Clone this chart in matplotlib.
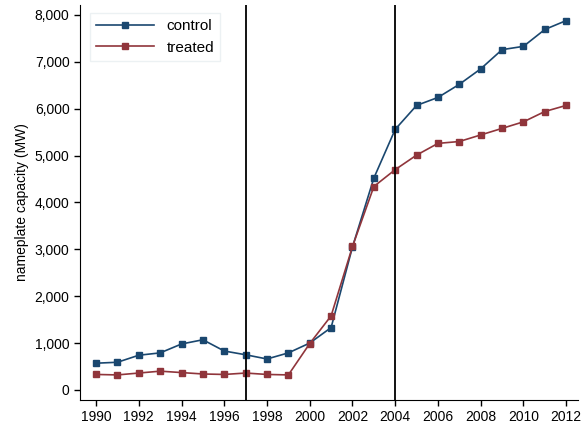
import matplotlib
matplotlib.use('Agg')
from matplotlib import pyplot as plt
from matplotlib.ticker import FuncFormatter

years = list(range(1990, 2013))
control = [570, 590, 740, 790, 980, 1070, 830, 750, 660, 790, 1000, 1330,
           3050, 4520, 5560, 6070, 6240, 6520, 6850, 7260, 7330, 7690, 7880]
treated = [330, 320, 360, 400, 370, 340, 330, 360, 330, 320, 990, 1580,
           3060, 4340, 4700, 5010, 5260, 5300, 5440, 5580, 5720, 5940, 6070]
event_years = [1997, 2004]

plt.rcParams['font.family'] = ['Liberation Sans', 'DejaVu Sans']
plt.rcParams['font.size'] = 10

fig = plt.figure(figsize=(5.84, 4.30), dpi=100)
ax = fig.add_axes([0.137, 0.07, 0.853, 0.918])

ax.plot(years, control, color='#1a476f', marker='s', ms=5, lw=1.2, label='control')
ax.plot(years, treated, color='#90353b', marker='s', ms=5, lw=1.2, label='treated')
for yr in event_years:
    ax.axvline(yr, color='black', lw=1.3)

ax.set_xlim(1989.25, 2012.56)
ax.set_ylim(-213, 8209)
ax.set_xticks(range(1990, 2013, 2))
ax.set_yticks(range(0, 8001, 1000))
ax.yaxis.set_major_formatter(FuncFormatter(lambda v, p: '{:,.0f}'.format(v)))
ax.set_ylabel('nameplate capacity (MW)')
ax.tick_params(direction='out', length=4, width=1)

for s in ['top', 'right']:
    ax.spines[s].set_visible(False)

leg = ax.legend(loc='upper left', bbox_to_anchor=(0.005, 1.0), fancybox=False,
                edgecolor='#e8eef0', fontsize=11, handlelength=3.8)
leg.get_frame().set_linewidth(1)

fig.savefig('out.png', dpi=100)
